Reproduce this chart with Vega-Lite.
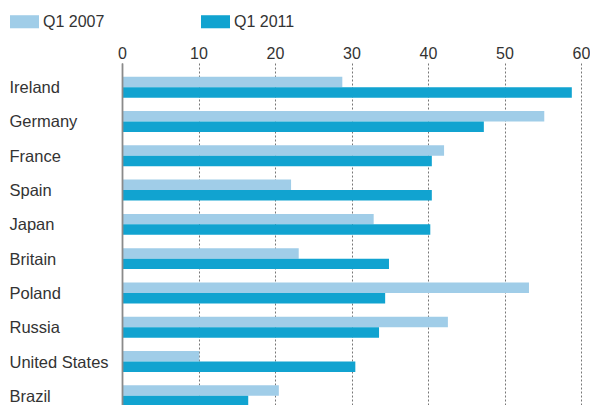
{
  "$schema": "https://vega.github.io/schema/vega-lite/v6.json",
  "width": 459,
  "height": 342,
  "autosize": {"type": "none"},
  "padding": {"left": 122, "top": 63, "right": 9, "bottom": 0},
  "config": {"view": {"stroke": null}, "font": "Liberation Sans"},
  "data": {
    "values": [
      {"country": "Ireland", "series": "Q1 2007", "value": 28.8},
      {"country": "Ireland", "series": "Q1 2011", "value": 58.8},
      {"country": "Germany", "series": "Q1 2007", "value": 55.2},
      {"country": "Germany", "series": "Q1 2011", "value": 47.3},
      {"country": "France", "series": "Q1 2007", "value": 42.1},
      {"country": "France", "series": "Q1 2011", "value": 40.5},
      {"country": "Spain", "series": "Q1 2007", "value": 22.1},
      {"country": "Spain", "series": "Q1 2011", "value": 40.5},
      {"country": "Japan", "series": "Q1 2007", "value": 32.9},
      {"country": "Japan", "series": "Q1 2011", "value": 40.3},
      {"country": "Britain", "series": "Q1 2007", "value": 23.1},
      {"country": "Britain", "series": "Q1 2011", "value": 34.9},
      {"country": "Poland", "series": "Q1 2007", "value": 53.2},
      {"country": "Poland", "series": "Q1 2011", "value": 34.4},
      {"country": "Russia", "series": "Q1 2007", "value": 42.6},
      {"country": "Russia", "series": "Q1 2011", "value": 33.6},
      {"country": "United States", "series": "Q1 2007", "value": 10.1},
      {"country": "United States", "series": "Q1 2011", "value": 30.5},
      {"country": "Brazil", "series": "Q1 2007", "value": 20.5},
      {"country": "Brazil", "series": "Q1 2011", "value": 16.5}
    ]
  },
  "mark": {"type": "bar", "clip": true},
  "encoding": {
    "y": {
      "field": "country",
      "type": "nominal",
      "sort": ["Ireland", "Germany", "France", "Spain", "Japan", "Britain", "Poland", "Russia", "United States", "Brazil"],
      "scale": {"range": [0, 357], "paddingInner": 0.39, "paddingOuter": 0.4},
      "title": null,
      "axis": {
        "ticks": false,
        "tickSize": 0,
        "labelAlign": "left",
        "labelPadding": 113,
        "labelOffset": 1,
        "labelFontSize": 16.5,
        "labelColor": "#333333",
        "labelBaseline": "middle",
        "domain": true,
        "domainColor": "#8a8a8a",
        "domainWidth": 1.8,
        "grid": false,
        "zindex": 1
      }
    },
    "yOffset": {
      "field": "series",
      "type": "nominal",
      "scale": {"paddingInner": 0, "paddingOuter": 0}
    },
    "x": {
      "field": "value",
      "type": "quantitative",
      "scale": {"domain": [0, 60], "nice": false},
      "title": null,
      "axis": {
        "orient": "top",
        "values": [0, 10, 20, 30, 40, 50, 60],
        "ticks": false,
        "tickSize": 0,
        "domain": false,
        "labelFlush": false,
        "labelPadding": 5,
        "labelBaseline": "alphabetic",
        "labelFontSize": 16,
        "labelColor": "#333333",
        "grid": true,
        "gridColor": "#777777",
        "gridDash": [2, 2],
        "gridWidth": 1
      }
    },
    "color": {
      "field": "series",
      "type": "nominal",
      "scale": {"domain": ["Q1 2007", "Q1 2011"], "range": ["#a0cde8", "#11a3d0"]},
      "legend": {
        "orient": "none",
        "legendX": -112,
        "legendY": -56,
        "direction": "horizontal",
        "columns": 2,
        "columnPadding": 96,
        "symbolType": "M-1,-0.45L1,-0.45L1,0.45L-1,0.45Z",
        "symbolSize": 841,
        "symbolStrokeWidth": 0,
        "symbolOpacity": 1,
        "labelFontSize": 16,
        "labelColor": "#333333",
        "labelOffset": 4,
        "title": null,
        "padding": 0
      }
    }
  }
}
